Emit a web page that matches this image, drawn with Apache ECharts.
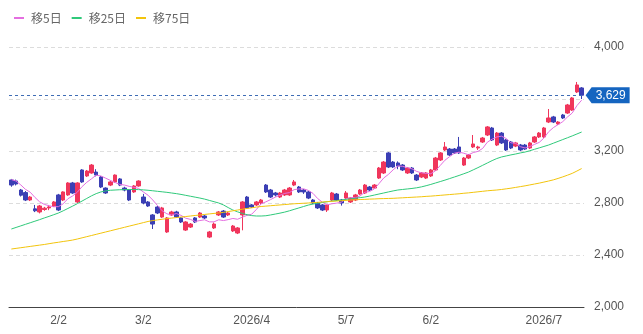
<!DOCTYPE html>
<html>
<head>
<meta charset="utf-8">
<script src="https://cdn.jsdelivr.net/npm/echarts@6/dist/echarts.min.js"></script>
<style>
  html, body { margin: 0; padding: 0; background: #fff; }
  #chart { width: 643px; height: 334px; }
</style>
</head>
<body>
<div id="chart"></div>
<script>
// trading days per month shown on the chart
const monthNums = [1, 2, 3, 4, 5, 6, 7]
const monthFirstDay = [19, 2, 2, 1, 7, 2, 1]
const monthCounts = [10, 18, 23, 20, 18, 24, 9]

const opens = [2977, 2969, 2900, 2880, 2823, 2755, 2731, 2750, 2762, 2777,
  2862, 2823, 2862, 2954, 2808, 3054, 3008, 3031, 3038, 3000,
  2915, 2938, 2962, 2985, 2915, 2900, 2885, 2931, 2846, 2808,
  2708, 2769, 2692, 2577, 2708, 2731, 2685, 2592, 2615, 2685,
  2692, 2700, 2538, 2608, 2708, 2738, 2708, 2585, 2569, 2708,
  2846, 2785, 2785, 2800, 2938, 2900, 2877, 2846, 2862, 2862,
  2938, 2923, 2900, 2885, 2823, 2800, 2785, 2746, 2823, 2869,
  2823, 2838, 2808, 2823, 2869, 2877, 2923, 2915, 2992, 3031,
  3185, 3115, 3108, 3092, 3031, 3069, 3015, 3000, 2992, 3008,
  3054, 3131, 3208, 3215, 3215, 3231, 3092, 3146, 3231, 3223,
  3269, 3323, 3377, 3246, 3338, 3285, 3269, 3238, 3246, 3246,
  3223, 3269, 3308, 3308, 3423, 3462, 3408, 3477, 3492, 3515,
  3654, 3685]

const closes = [2938, 2946, 2860, 2823, 2846, 2740, 2777, 2760, 2770, 2808,
  2746, 2885, 2954, 2877, 2954, 2962, 3046, 3092, 3015, 2923,
  2877, 2962, 3015, 2938, 2900, 2823, 2931, 2969, 2800, 2777,
  2638, 2723, 2762, 2685, 2731, 2692, 2654, 2654, 2638, 2654,
  2723, 2685, 2577, 2638, 2731, 2692, 2723, 2623, 2608, 2808,
  2762, 2769, 2808, 2823, 2885, 2846, 2862, 2877, 2900, 2915,
  2962, 2885, 2885, 2838, 2800, 2762, 2746, 2785, 2877, 2823,
  2800, 2877, 2838, 2862, 2900, 2938, 2900, 2938, 3069, 3115,
  3077, 3077, 3085, 3054, 3069, 3031, 2977, 3031, 3031, 3054,
  3146, 3185, 3231, 3169, 3185, 3185, 3146, 3169, 3254, 3231,
  3300, 3385, 3285, 3338, 3262, 3208, 3223, 3262, 3208, 3215,
  3262, 3308, 3338, 3377, 3454, 3423, 3423, 3454, 3554, 3608,
  3708, 3629]

const lows = [2925, 2935, 2850, 2815, 2815, 2730, 2720, 2740, 2745, 2770,
  2738, 2815, 2855, 2870, 2800, 2955, 3000, 3025, 3005, 2915,
  2870, 2930, 2955, 2930, 2890, 2815, 2878, 2925, 2790, 2770,
  2600, 2715, 2685, 2570, 2700, 2685, 2646, 2585, 2608, 2646,
  2685, 2677, 2530, 2600, 2700, 2685, 2700, 2577, 2561, 2590,
  2755, 2762, 2777, 2792, 2877, 2838, 2850, 2838, 2854, 2855,
  2930, 2877, 2870, 2830, 2792, 2754, 2738, 2731, 2815, 2815,
  2780, 2830, 2800, 2815, 2862, 2870, 2892, 2908, 2985, 3023,
  3069, 3069, 3060, 3046, 3023, 3023, 2969, 2992, 2985, 3000,
  3046, 3123, 3200, 3162, 3177, 3177, 3085, 3138, 3223, 3208,
  3262, 3315, 3277, 3238, 3254, 3200, 3215, 3230, 3200, 3208,
  3215, 3262, 3300, 3300, 3415, 3415, 3400, 3446, 3485, 3508,
  3646, 3600]

const highs = [2985, 2980, 2908, 2892, 2854, 2785, 2785, 2770, 2785, 2815,
  2870, 2890, 2960, 2962, 2960, 3060, 3054, 3100, 3060, 3008,
  2920, 2970, 3020, 2992, 2925, 2905, 2938, 2975, 2870, 2815,
  2715, 2777, 2770, 2692, 2740, 2740, 2692, 2660, 2646, 2692,
  2731, 2708, 2585, 2650, 2738, 2746, 2731, 2631, 2615, 2815,
  2854, 2792, 2815, 2831, 2946, 2908, 2885, 2885, 2908, 2923,
  2977, 2931, 2908, 2892, 2831, 2808, 2792, 2792, 2885, 2877,
  2831, 2892, 2846, 2870, 2908, 2946, 2931, 2946, 3077, 3123,
  3192, 3123, 3120, 3100, 3077, 3077, 3023, 3038, 3038, 3062,
  3154, 3192, 3269, 3223, 3223, 3308, 3154, 3177, 3323, 3240,
  3308, 3392, 3385, 3346, 3346, 3292, 3277, 3270, 3254, 3254,
  3270, 3315, 3346, 3385, 3523, 3470, 3430, 3485, 3562, 3615,
  3731, 3692]

const ma5 = [2980, 2969, 2939, 2905, 2883, 2843, 2809, 2789, 2779, 2771,
  2772, 2794, 2833, 2854, 2883, 2926, 2959, 2986, 3014, 3008,
  2991, 2974, 2958, 2943, 2938, 2928, 2921, 2912, 2885, 2860,
  2823, 2781, 2740, 2717, 2708, 2719, 2705, 2683, 2674, 2658,
  2665, 2671, 2655, 2655, 2671, 2665, 2672, 2681, 2675, 2691,
  2705, 2714, 2751, 2794, 2809, 2826, 2845, 2859, 2874, 2880,
  2903, 2908, 2909, 2897, 2874, 2834, 2806, 2786, 2794, 2799,
  2806, 2832, 2843, 2840, 2855, 2883, 2888, 2908, 2949, 2992,
  3020, 3055, 3085, 3082, 3072, 3063, 3043, 3032, 3028, 3025,
  3048, 3089, 3129, 3157, 3183, 3191, 3183, 3171, 3188, 3197,
  3220, 3268, 3291, 3308, 3314, 3296, 3263, 3259, 3233, 3223,
  3234, 3251, 3266, 3300, 3348, 3380, 3403, 3426, 3462, 3492,
  3549, 3591]

const ma25 = [2600, 2612, 2624, 2636, 2648, 2660, 2672, 2685, 2697, 2710,
  2723, 2740, 2758, 2776, 2795, 2815, 2835, 2855, 2872, 2885,
  2893, 2898, 2900, 2902, 2903, 2904, 2904, 2903, 2901, 2898,
  2894, 2890, 2886, 2882, 2877, 2872, 2866, 2859, 2852, 2845,
  2838, 2830, 2820, 2810, 2800, 2785, 2765, 2746, 2732, 2720,
  2710, 2703, 2700, 2700, 2702, 2708, 2715, 2722, 2730, 2740,
  2751, 2762, 2773, 2784, 2792, 2798, 2804, 2810, 2815, 2819,
  2823, 2828, 2832, 2837, 2841, 2846, 2853, 2861, 2869, 2877,
  2885, 2893, 2900, 2904, 2908, 2912, 2917, 2924, 2933, 2943,
  2954, 2965, 2976, 2988, 3000, 3012, 3025, 3038, 3055, 3072,
  3090, 3108, 3126, 3142, 3154, 3162, 3170, 3177, 3185, 3192,
  3202, 3213, 3224, 3235, 3246, 3260, 3274, 3288, 3302, 3316,
  3331, 3346]

const ma75 = [2446, 2451, 2456, 2461, 2466, 2471, 2476, 2481, 2487, 2493,
  2498, 2504, 2509, 2515, 2523, 2532, 2541, 2550, 2559, 2568,
  2577, 2586, 2595, 2604, 2613, 2622, 2631, 2640, 2649, 2658,
  2665, 2670, 2675, 2680, 2684, 2688, 2692, 2696, 2700, 2704,
  2708, 2712, 2716, 2720, 2723, 2728, 2734, 2740, 2746, 2752,
  2758, 2763, 2769, 2773, 2776, 2779, 2782, 2785, 2788, 2791,
  2794, 2796, 2798, 2800, 2803, 2805, 2808, 2810, 2813, 2815,
  2818, 2820, 2823, 2825, 2827, 2828, 2830, 2831, 2833, 2834,
  2835, 2836, 2838, 2840, 2842, 2844, 2846, 2848, 2851, 2853,
  2856, 2859, 2862, 2865, 2868, 2871, 2875, 2878, 2882, 2886,
  2890, 2894, 2897, 2900, 2904, 2909, 2914, 2920, 2926, 2932,
  2939, 2946, 2953, 2961, 2969, 2978, 2989, 3001, 3014, 3028,
  3046, 3065]

const yTicks = { min: 2000, max: 4000, step: 400 }

const palette = {
  up: '#f0365c',
  down: '#3b3fb4',
  ma5: '#e46ee0',
  ma25: '#2fc97a',
  ma75: '#f2c40c',
  tag: '#1565c0',
  text: '#555',
}

const dates = []
monthNums.forEach((m, k) => {
  for (let d = 0; d < monthCounts[k]; d++) dates.push(`2026/${m}/${monthFirstDay[k] + d}`)
})

const candles = opens.map((o, i) => [o, closes[i], lows[i], highs[i]])
const lastClose = closes[closes.length - 1]
const monthOf = s => s.split('/')[1]

function maSeries(name, data, color) {
  return {
    name, type: 'line', data, color,
    showSymbol: false, smooth: false, silent: true,
    lineStyle: { width: 1, color },
  }
}

const chart = echarts.init(document.getElementById('chart'))
chart.setOption({
  animation: false,
  legend: {
    data: ['移5日', '移25日', '移75日'],
    left: 9, top: 7,
    icon: 'rect', itemWidth: 10, itemHeight: 2, itemGap: 10,
    textStyle: { color: '#666', fontSize: 12, fontFamily: 'Noto Sans CJK JP', padding: [0, 0, 0, 2] },
  },
  grid: { left: 9, right: 59, top: 47, bottom: 27 },
  xAxis: {
    type: 'category',
    data: dates,
    boundaryGap: true,
    axisLine: { lineStyle: { color: '#444', width: 1 } },
    axisTick: { show: false },
    splitLine: { show: false },
    axisLabel: {
      color: palette.text, fontSize: 12, fontFamily: 'Liberation Sans', margin: 8,
      interval: (idx) => idx > 0 && monthOf(dates[idx]) !== monthOf(dates[idx - 1]),
      formatter: (val) => {
        const [y, m, d] = val.split('/')
        return [1, 4, 7, 10].includes(+m) ? `${y}/${m}` : `${m}/${d}`
      },
    },
  },
  yAxis: {
    type: 'value',
    position: 'right',
    min: yTicks.min, max: yTicks.max, interval: yTicks.step,
    axisLine: { show: false },
    axisTick: { show: false },
    splitLine: { lineStyle: { color: '#dcdcdc', type: [4, 3] } },
    axisLabel: {
      color: palette.text, fontSize: 12, fontFamily: 'Liberation Sans', margin: 10,
      formatter: v => Math.abs(v - lastClose) < 100 ? '' : v.toLocaleString('en-US'),
    },
  },
  series: [
    {
      name: '株価',
      type: 'candlestick',
      data: candles,
      barWidth: '85%',
      itemStyle: {
        color: palette.up, color0: palette.down,
        borderColor: palette.up, borderColor0: palette.down, borderWidth: 1,
      },
      markLine: {
        symbol: 'none', silent: true,
        label: { show: false },
        lineStyle: { color: '#3f6db5', type: [3, 3], width: 1 },
        data: [{ yAxis: lastClose }],
      },
      markPoint: {
        silent: true,
        symbol: 'path://M0,8 L6,0 L44,0 L44,16 L6,16 Z',
        symbolSize: [44, 16],
        symbolOffset: [26, 0],
        itemStyle: { color: palette.tag },
        label: {
          show: true, position: 'inside', offset: [3, 0],
          color: '#fff', fontSize: 12, fontFamily: 'Liberation Sans',
          formatter: p => p.value.toLocaleString('en-US'),
        },
        data: [{ coord: [dates.length - 1, lastClose], value: lastClose }],
      },
    },
    maSeries('移5日', ma5, palette.ma5),
    maSeries('移25日', ma25, palette.ma25),
    maSeries('移75日', ma75, palette.ma75),
  ],
})
</script>
</body>
</html>
